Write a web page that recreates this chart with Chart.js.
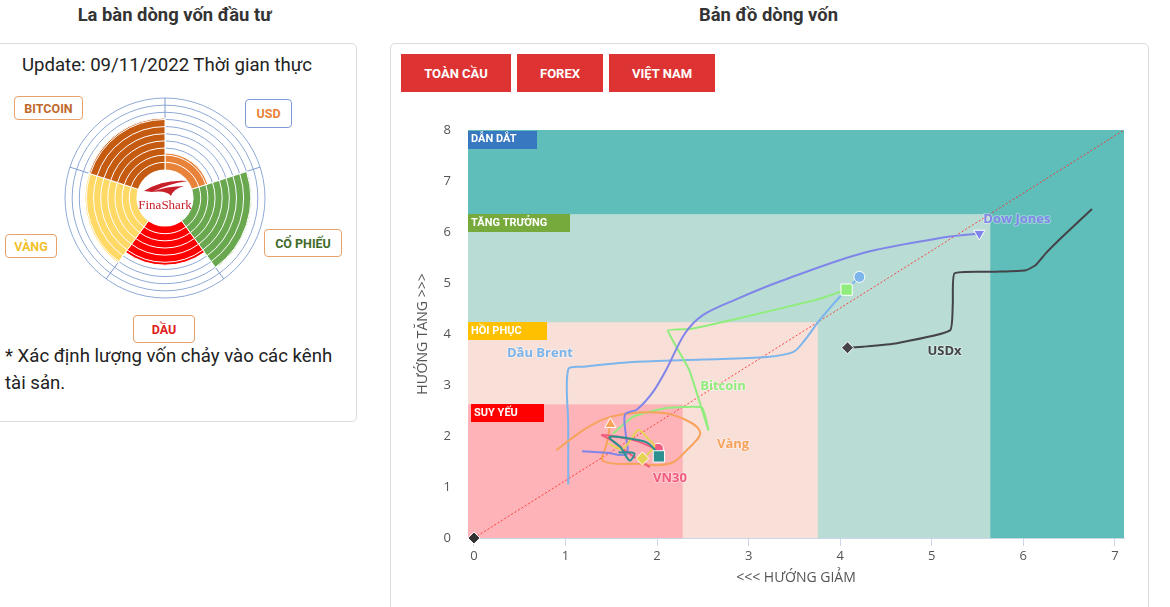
<!DOCTYPE html>
<html lang="vi">
<head>
<meta charset="utf-8">
<script src="https://cdn.jsdelivr.net/npm/chart.js@4.4.0/dist/chart.umd.min.js"></script>
<style>
  body { margin: 0; width: 1170px; height: 607px; overflow: hidden; background: #fff;
         font-family: Roboto, "Noto Sans", sans-serif; color: #222; position: relative; }
  .head { position: absolute; top: 4px; font-weight: bold; font-size: 18.4px; color: #333; text-align: center; }
  .panel { position: absolute; border: 1px solid #dcdcdc; border-radius: 5px; background: #fff; }
  .update { position: absolute; left: 0; width: 334px; top: 54px; text-align: center; font-size: 18.6px; color: #222; }
  .note { position: absolute; left: 5px; top: 343px; width: 345px; font-size: 18.6px; line-height: 27px; color: #222; }
  .tag { position: absolute; box-sizing: border-box; border: 1.5px solid #e8a26a; border-radius: 4px;
         font-weight: bold; font-size: 12.5px; display: flex; align-items: center; justify-content: center; background: #fff; }
  .btn { position: absolute; top: 54px; height: 38px; background: #dd3333; color: #fff; font-weight: bold;
         font-size: 13px; display: flex; align-items: center; justify-content: center; }
  canvas { position: absolute; }
</style>
</head>
<body>
<div class="head" style="left:0;width:349px;">La bàn dòng vốn đầu tư</div>
<div class="head" style="left:390px;width:757px;">Bản đồ dòng vốn</div>

<div class="panel" style="left:-6px;top:43px;width:361px;height:377px;"></div>
<div class="update">Update: 09/11/2022 Thời gian thực</div>
<div class="note">* Xác định lượng vốn chảy vào các kênh tài sản.</div>

<div class="tag" style="left:14px;top:96px;width:69px;height:24px;color:#c0692c;">BITCOIN</div>
<div class="tag" style="left:245px;top:99px;width:47px;height:29px;color:#e8823a;border-color:#7d9cd4;">USD</div>
<div class="tag" style="left:264px;top:229px;width:78px;height:28px;color:#3e6b2a;">CỔ PHIẾU</div>
<div class="tag" style="left:5px;top:234px;width:52px;height:24px;color:#f2c12e;">VÀNG</div>
<div class="tag" style="left:133px;top:315px;width:62px;height:28px;color:#e02020;">DẦU</div>

<canvas id="compass" width="204" height="204" style="left:63px;top:96px;"></canvas>

<div class="panel" style="left:390px;top:43px;width:757px;height:580px;"></div>
<div class="btn" style="left:401px;width:110px;">TOÀN CẦU</div>
<div class="btn" style="left:517px;width:86px;">FOREX</div>
<div class="btn" style="left:609px;width:106px;">VIỆT NAM</div>

<canvas id="flow" width="740" height="500" style="left:400px;top:100px;"></canvas>

<script>
// ---- compass data ----
const compassLabels = ['USD', 'CỔ PHIẾU', 'DẦU', 'VÀNG', 'BITCOIN'];
const compassValues = [2.3, 8.1, 5.4, 7.2, 7.2];
const compassColors = ['#e9833a', '#6aa84f', '#ff0000', '#ffd966', '#c55a11'];

// ---- flow map data ----
const xTicks = [0, 1, 2, 3, 4, 5, 6, 7];
const yTicks = [0, 1, 2, 3, 4, 5, 6, 7, 8];

const zoneNames = ['DẪN DẮT', 'TĂNG TRƯỞNG', 'HỒI PHỤC', 'SUY YẾU'];
const zoneMaxX = [7.1, 5.64, 3.755, 2.28];
const zoneMaxY = [8, 6.35, 4.23, 2.62];

const diagX = [0, 7.1];
const diagY = [0, 8];

const brentX = [1.03, 1.03, 1.03, 1.2, 1.74, 2.5, 3.2, 3.49, 3.6, 3.78, 4.03, 4.21];
const brentY = [1.05, 2.2, 3.31, 3.36, 3.45, 3.5, 3.55, 3.65, 3.85, 4.28, 4.8, 5.12];

const usdxX = [6.75, 6.43, 6.25, 6.14, 6.03, 5.7, 5.25, 5.23, 5.2, 4.62, 4.25, 4.08];
const usdxY = [6.45, 5.91, 5.59, 5.36, 5.25, 5.22, 5.19, 4.6, 4.07, 3.82, 3.75, 3.73];

const btcX = [1.52, 1.74, 2.1, 2.49, 2.56, 2.35, 2.12, 2.36, 2.83, 3.74, 4.07];
const btcY = [2.05, 2.38, 2.55, 2.56, 2.12, 3.3, 4.07, 4.1, 4.28, 4.67, 4.87];

const goldX = [0.9, 1.19, 1.45, 1.81, 2.18, 2.47, 2.29, 2.18, 2.03, 1.81, 1.41, 1.45, 1.49];
const goldY = [1.72, 2.11, 2.35, 2.46, 2.41, 2.08, 1.66, 1.49, 1.43, 1.45, 1.51, 1.85, 2.23];

const dowX = [1.18, 1.45, 1.67, 1.66, 1.65, 1.78, 1.95, 2.1, 2.3, 2.5, 2.85, 3.34, 4.25, 5.16, 5.52];
const dowY = [1.70, 1.67, 1.64, 2.0, 2.42, 2.52, 2.85, 3.3, 4.0, 4.37, 4.67, 5.03, 5.59, 5.9, 5.97];

const vn30X = [1.92, 1.7, 1.5, 1.4, 1.58, 1.78, 1.95, 2.01];
const vn30Y = [1.39, 1.65, 1.92, 2.02, 1.98, 1.9, 1.78, 1.75];

const yellowX = [1.47, 1.62, 1.72, 1.8, 1.9, 1.97, 1.9, 1.84];
const yellowY = [1.85, 1.75, 1.95, 2.12, 1.95, 1.8, 1.65, 1.56];

const tealX = [1.58, 1.75, 1.7, 1.6, 1.48, 1.7, 1.88, 1.98, 2.02];
const tealY = [1.68, 1.66, 1.52, 1.78, 1.98, 1.95, 1.88, 1.72, 1.6];

const originX = [0];
const originY = [0];

// ---- styles ----
const FONT = '"Open Sans", "DejaVu Sans", sans-serif';
const zoneFill = ['#5fbdba', '#b9ddd4', '#f8e0d9', '#fdb3b7'];
const zoneTag = ['#3878c0', '#76aa3c', '#ffc000', '#ff0000'];
const zoneTagW = [69, 102, 79, 73];
const zoneTagDx = [0, 0, 0, 3];

const series = [
  { name: 'Dầu Brent', xs: brentX, ys: brentY, color: '#7cb5ec', marker: 'circle', r: 5.5, rot: 0, t: 0.3, label: [0.72, 3.62] },
  { name: 'USDx', xs: usdxX, ys: usdxY, color: '#434348', marker: 'rectRot', r: 6, rot: 0, t: 0.15, label: [5.14, 3.67] },
  { name: 'Bitcoin', xs: btcX, ys: btcY, color: '#90ed7d', marker: 'rect', r: 8, rot: 0, t: 0.12, label: [2.72, 2.98] },
  { name: 'Vàng', xs: goldX, ys: goldY, color: '#f7a35c', marker: 'triangle', r: 6.5, rot: 0, t: 0.35, label: [2.83, 1.84] },
  { name: 'Dow Jones', xs: dowX, ys: dowY, color: '#8085e9', marker: 'triangle', r: 6.5, rot: 180, t: 0.3, label: [5.93, 6.24] },
  { name: 'VN30', xs: vn30X, ys: vn30Y, color: '#f15c80', marker: 'circle', r: 5.5, rot: 0, t: 0.35, label: [2.14, 1.17] },
  { name: '', xs: yellowX, ys: yellowY, color: '#e4d354', marker: 'rectRot', r: 6.5, rot: 0, t: 0.35, label: null },
  { name: '', xs: tealX, ys: tealY, color: '#2b908f', marker: 'rect', r: 8, rot: 0, t: 0.35, label: null }
];

// ---- compass ----
const ringTop = Math.ceil(Math.max(...compassValues));
const compassSets = [];
for (let lv = 1; lv <= ringTop; lv++) {
  compassSets.push({
    data: compassValues.map(v => Math.min(v, lv)),
    backgroundColor: compassColors,
    borderColor: '#ffffff',
    borderWidth: 1
  });
}

const logoPlugin = {
  id: 'logo',
  afterDatasetsDraw(chart) {
    const { ctx } = chart;
    const s = chart.scales.r;
    const cx = s.xCenter, cy = s.yCenter;
    ctx.save();
    ctx.beginPath();
    ctx.arc(cx, cy, s.getDistanceFromCenterForValue(0), 0, Math.PI * 2);
    ctx.fillStyle = '#fff';
    ctx.fill();
    ctx.fillStyle = '#c8202a';
    // swoosh
    ctx.beginPath();
    ctx.moveTo(cx - 21, cy - 7);
    ctx.quadraticCurveTo(cx - 2, cy - 19, cx + 23, cy - 17);
    ctx.quadraticCurveTo(cx + 2, cy - 14, cx - 13, cy - 6);
    ctx.closePath();
    ctx.fill();
    ctx.beginPath();
    ctx.moveTo(cx - 14, cy - 6);
    ctx.quadraticCurveTo(cx + 2, cy - 12, cx + 19, cy - 12);
    ctx.quadraticCurveTo(cx + 8, cy - 9, cx + 6, cy - 2);
    ctx.quadraticCurveTo(cx + 2, cy - 8, cx - 14, cy - 6);
    ctx.fill();
    ctx.font = '13px "Liberation Serif", "DejaVu Serif", serif';
    ctx.textAlign = 'center';
    ctx.textBaseline = 'middle';
    ctx.fillText('FinaShark', cx, cy + 8);
    ctx.restore();
  }
};

new Chart(document.getElementById('compass'), {
  type: 'polarArea',
  data: { labels: compassLabels, datasets: compassSets },
  options: {
    responsive: false,
    animation: false,
    events: [],
    layout: { padding: 2 },
    plugins: { legend: { display: false }, tooltip: { enabled: false } },
    scales: {
      r: {
        min: -4,
        max: 10,
        ticks: { display: false, stepSize: 1 },
        grid: { color: '#8fa9d6', lineWidth: 1 },
        angleLines: { display: true, color: '#7d9bd0' },
        pointLabels: { display: false }
      }
    }
  },
  plugins: [logoPlugin]
});

// ---- flow map ----
const zonePlugin = {
  id: 'zones',
  beforeDraw(chart) {
    const { ctx } = chart;
    const x = chart.scales.x, y = chart.scales.y;
    const left = x.getPixelForValue(x.min);
    const bottom = y.getPixelForValue(0);
    ctx.save();
    zoneNames.forEach((name, i) => {
      const r = x.getPixelForValue(zoneMaxX[i]);
      const t = y.getPixelForValue(zoneMaxY[i]);
      ctx.fillStyle = zoneFill[i];
      ctx.fillRect(left, t, r - left, bottom - t);
    });
    ctx.font = 'bold 11px Roboto, ' + FONT;
    ctx.textBaseline = 'middle';
    zoneNames.forEach((name, i) => {
      const t = Math.round(y.getPixelForValue(zoneMaxY[i]));
      const l = left + zoneTagDx[i];
      ctx.fillStyle = zoneTag[i];
      ctx.fillRect(l, t + (i === 0 ? 1 : 0), zoneTagW[i], 18);
      ctx.fillStyle = '#fff';
      ctx.fillText(name, l + 3, t + 9);
    });
    ctx.restore();
  }
};

const labelPlugin = {
  id: 'seriesLabels',
  afterDatasetsDraw(chart) {
    const { ctx } = chart;
    const x = chart.scales.x, y = chart.scales.y;
    ctx.save();
    ctx.font = 'bold 13px ' + FONT;
    ctx.textAlign = 'center';
    ctx.textBaseline = 'middle';
    ctx.lineJoin = 'round';
    series.forEach(s => {
      if (!s.label) return;
      const px = x.getPixelForValue(s.label[0]);
      const py = y.getPixelForValue(s.label[1]);
      ctx.strokeStyle = 'rgba(255,255,255,0.35)';
      ctx.lineWidth = 2;
      ctx.strokeText(s.name, px, py);
      ctx.fillStyle = s.color;
      ctx.fillText(s.name, px, py);
    });
    ctx.restore();
  }
};

const flowSets = series.map((s, i) => ({
  label: s.name,
  data: s.xs.map((v, k) => ({ x: v, y: s.ys[k] })),
  showLine: true,
  borderColor: s.color,
  backgroundColor: s.color,
  borderWidth: 2,
  tension: s.t,
  pointStyle: s.marker,
  pointRotation: s.rot,
  pointBackgroundColor: s.color,
  pointBorderColor: '#fff',
  pointBorderWidth: 1,
  pointRadius: c => (c.dataIndex === s.xs.length - 1 ? s.r : 0),
  order: -i
}));

flowSets.push({
  label: 'diag',
  data: diagX.map((v, k) => ({ x: v, y: diagY[k] })),
  showLine: true,
  borderColor: 'rgba(255,40,40,0.85)',
  borderWidth: 1,
  borderDash: [2, 2],
  pointRadius: 0,
  order: 10
});

flowSets.push({
  label: 'origin',
  data: originX.map((v, k) => ({ x: v, y: originY[k] })),
  pointStyle: 'rectRot',
  pointRadius: 6,
  pointBackgroundColor: '#333',
  pointBorderColor: '#fff',
  pointBorderWidth: 1,
  clip: false,
  order: -100
});

const axisFont = { size: 13, family: FONT };
const titleFont = { size: 14, family: FONT };

new Chart(document.getElementById('flow'), {
  type: 'scatter',
  data: { datasets: flowSets },
  options: {
    responsive: false,
    animation: false,
    events: [],
    layout: { padding: { left: 0, right: 16, top: 30, bottom: 0 } },
    plugins: { legend: { display: false }, tooltip: { enabled: false } },
    scales: {
      x: {
        type: 'linear',
        min: -0.065,
        max: 7.1,
        afterBuildTicks: s => { s.ticks = xTicks.map(v => ({ value: v })); },
        afterFit: s => { s.height = 62; },
        grid: { drawOnChartArea: false, tickLength: 8, color: '#ccd6eb' },
        border: { color: '#ccd6eb' },
        ticks: { color: '#555', font: axisFont, padding: 2 },
        title: { display: true, text: '<<< HƯỚNG GIẢM', color: '#555', font: titleFont, padding: { top: 0, bottom: 14 } }
      },
      y: {
        type: 'linear',
        min: 0,
        max: 8,
        afterBuildTicks: s => { s.ticks = yTicks.map(v => ({ value: v })); },
        afterFit: s => { s.width = 68; },
        grid: { display: false, drawTicks: false },
        border: { display: false },
        ticks: { color: '#555', font: axisFont, padding: 17 },
        title: { display: true, text: 'HƯỚNG TĂNG >>>', color: '#555', font: titleFont, padding: { top: 15, bottom: 0 } }
      }
    }
  },
  plugins: [zonePlugin, labelPlugin]
});
</script>
</body>
</html>
